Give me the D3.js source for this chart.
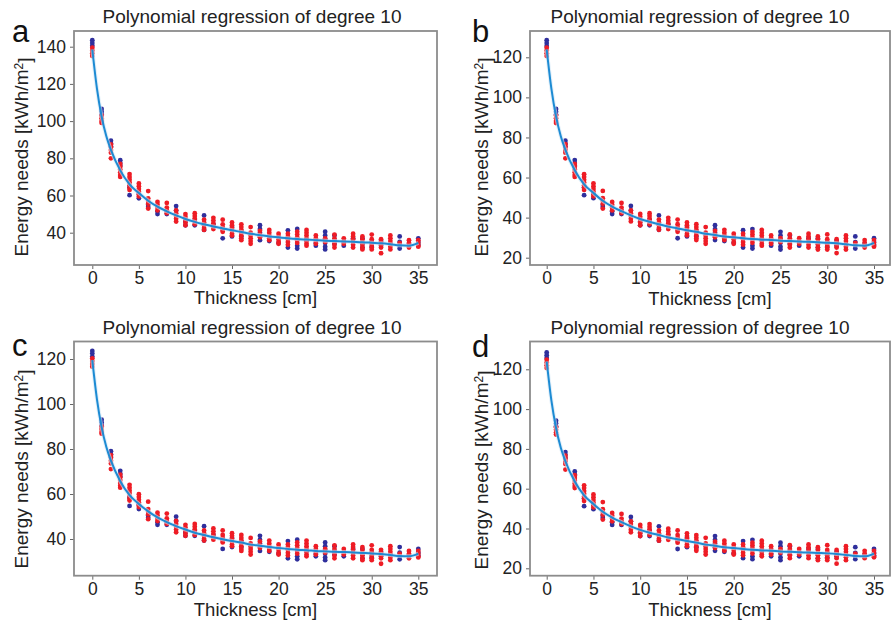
<!DOCTYPE html>
<html><head><meta charset="utf-8">
<script src="https://cdn.jsdelivr.net/npm/d3@7"></script>
<style>
html,body{margin:0;padding:0;background:#fff;}
svg{display:block;font-family:"Liberation Sans",Arial,Helvetica,sans-serif;}
</style></head>
<body>
<svg id="chart" width="891" height="620"></svg>
<script>
// ---------------- DATA ----------------
const thickness = [0,1,2,3,4,5,6,7,8,9,10,11,12,13,14,15,16,17,18,19,20,21,22,23,24,25,26,27,28,29,30,31,32,33,34,35];
const xTicks = [0,5,10,15,20,25,30,35];
const yTicksA = [40,60,80,100,120,140];
const yTicksB = [20,40,60,80,100,120];
const yTicksC = [40,60,80,100,120];
const yTicksD = [20,40,60,80,100,120];
const panelLetters = ["a","b","c","d"];
const titleText = "Polynomial regression of degree 10";
const xLabelText = "Thickness [cm]";

// Panel a (red / blue observations per thickness)
const redA = [[139.5,138,136.5,135],[103,101.5,100,99],[87.5,86,84.5,83,80],[77,75.5,74,72.5,71,70],[71.5,70,68.5,67,65.5,64,63],[66.5,65,63.5,62,60.5,59.5],[62.4,58.5,57,55.5,53],[56.5,55,53.5,52],[56,53.5,52,50.5],[52,50.5,49,47.5,46],[50,48.5,47,45.5,44],[50.5,49,47.5,46,44.5],[47,45.5,44,42.5,41.5],[48,46.5,45,43.5,42],[47,44.5,43,41.5,40.5],[45.5,44,42.5,41,39.5,38.5],[44.5,43,41.5,40,38.5,37,36],[43,40,38.5,37,35.5,34],[41,39,37.5],[41.5,40,38.5,37,36],[39.5,38,36.5,35,34],[39.5,38,36.5,35,33.5],[40.5,39,37.5,36,34.5],[41.5,40,38.5,37,35.5,34,33],[38.5,37,35.5,34],[37,35],[39,37,35,33.5,32],[37,35.5,34],[39.5,38,36.5,35,33.5,32],[38,36.5,35,33.5,32,31],[39,36.5,35,33.5,32,31],[36.5,35,33.5,32,29],[38.5,37,35.5,34,32.5,31],[34.5],[36,34.5,33,32],[36,34.5,33,32.5]];
const blueA = [[143.5,142,140.5],[106.5,105,103.5],[89.5,88,86.5],[79,77.5,76],[64.5,60.2],[61,58.5],[55,53.8],[51.5,50],[51.5,50],[54.3,52],[46,44],[47,44],[49.3,41.5],[44.5],[42,37],[43,38],[41,38],[],[44,42,40,38,36],[35.5],[34.5],[41.3,37,32],[42,33,31.5],[36],[34.5,33],[40.5,38.5,36.5,34.5,32.5,31],[38.5,36,34],[35,33],[37],[37,34,32],[35,32.5],[35.5,33],[34],[38,35,33,31.5],[34],[37,35,33.5]];

// Panel b
const redB = [[124.8,123.4,122.0,120.6],[90.9,89.6,88.2,87.2],[76.6,75.2,73.8,72.4,69.6],[66.8,65.4,64.0,62.6,61.3,60.3],[61.7,60.3,58.9,57.5,56.1,54.8,53.8],[57.1,55.7,54.3,52.9,51.5,50.6],[53.3,49.7,48.3,46.9,44.5],[47.8,46.4,45.0,43.6],[47.3,45.0,43.6,42.2],[43.6,42.2,40.8,39.4,38.1],[41.8,40.4,39.0,37.6,36.2],[42.2,40.8,39.4,38.1,36.7],[39.0,37.6,36.2,34.8,33.9],[39.9,38.5,37.1,35.7,34.3],[39.0,36.7,35.3,33.9,32.9],[37.6,36.2,34.8,33.4,32.0,31.1],[36.7,35.3,33.9,32.5,31.1,29.7,28.8],[35.3,32.5,31.1,29.7,28.3,26.9],[33.4,31.6,30.2],[33.9,32.5,31.1,29.7,28.8],[32.0,30.6,29.2,27.8,26.9],[32.0,30.6,29.2,27.8,26.5],[32.9,31.6,30.2,28.8,27.4],[33.9,32.5,31.1,29.7,28.3,26.9,26.0],[31.1,29.7,28.3,26.9],[29.7,27.8],[31.6,29.7,27.8,26.5,25.1],[29.7,28.3,26.9],[32.0,30.6,29.2,27.8,26.5,25.1],[30.6,29.2,27.8,26.5,25.1,24.1],[31.6,29.2,27.8,26.5,25.1,24.1],[29.2,27.8,26.5,25.1,22.3],[31.1,29.7,28.3,26.9,25.5,24.1],[27.4],[28.8,27.4,26.0,25.1],[28.8,27.4,26.0,25.5]];
const blueB = [[128.5,127.1,125.7],[94.2,92.8,91.4],[78.4,77.0,75.6],[68.7,67.3,65.9],[55.2,51.2],[52.0,49.7],[46.4,45.3],[43.2,41.8],[43.2,41.8],[45.8,43.6],[38.1,36.2],[39.0,36.2],[41.1,33.9],[36.7],[34.3,29.7],[35.3,30.6],[33.4,30.6],[],[36.2,34.3,32.5,30.6,28.8],[28.3],[27.4],[33.7,29.7,25.1],[34.3,26.0,24.6],[28.8],[27.4,26.0],[32.9,31.1,29.2,27.4,25.5,24.1],[31.1,28.8,26.9],[27.8,26.0],[29.7],[29.7,26.9,25.1],[27.8,25.5],[28.3,26.0],[26.9],[30.6,27.8,26.0,24.6],[26.9],[29.7,27.8,26.5]];

// Panel c
const redC = [[120.3,119.1,117.8,116.6],[90.1,88.9,87.6,86.8],[77.3,76.1,74.8,73.6,71.1],[68.6,67.4,66.2,64.9,63.7,62.8],[64.1,62.8,61.6,60.4,59.1,57.9,57.1],[59.9,58.7,57.5,56.2,55.0,54.2],[56.6,53.3,52.1,50.9,48.8],[51.7,50.4,49.2,48.0],[51.3,49.2,48.0,46.7],[48.0,46.7,45.5,44.2,43.0],[46.3,45.1,43.8,42.6,41.4],[46.7,45.5,44.2,43.0,41.8],[43.8,42.6,41.4,40.1,39.3],[44.7,43.4,42.2,40.9,39.7],[43.8,41.8,40.5,39.3,38.5],[42.6,41.4,40.1,38.9,37.6,36.8],[41.8,40.5,39.3,38.0,36.8,35.6,34.7],[40.5,38.0,36.8,35.6,34.3,33.1],[38.9,37.2,36.0],[39.3,38.0,36.8,35.6,34.7],[37.6,36.4,35.2,33.9,33.1],[37.6,36.4,35.2,33.9,32.7],[38.5,37.2,36.0,34.7,33.5],[39.3,38.0,36.8,35.6,34.3,33.1,32.3],[36.8,35.6,34.3,33.1],[35.6,33.9],[37.2,35.6,33.9,32.7,31.4],[35.6,34.3,33.1],[37.6,36.4,35.2,33.9,32.7,31.4],[36.4,35.2,33.9,32.7,31.4,30.6],[37.2,35.2,33.9,32.7,31.4,30.6],[35.2,33.9,32.7,31.4,29.0],[36.8,35.6,34.3,33.1,31.8,30.6],[33.5],[34.7,33.5,32.3,31.4],[34.7,33.5,32.3,31.8]];
const blueC = [[123.6,122.4,121.1],[93.0,91.8,90.5],[79.0,77.7,76.5],[70.3,69.0,67.8],[58.3,54.7],[55.4,53.3],[50.4,49.4],[47.5,46.3],[47.5,46.3],[49.9,48.0],[43.0,41.4],[43.8,41.4],[45.7,39.3],[41.8],[39.7,35.6],[40.5,36.4],[38.9,36.4],[],[41.4,39.7,38.0,36.4,34.7],[34.3],[33.5],[39.1,35.6,31.4],[39.7,32.3,31.0],[34.7],[33.5,32.3],[38.5,36.8,35.2,33.5,31.8,30.6],[36.8,34.7,33.1],[33.9,32.3],[35.6],[35.6,33.1,31.4],[33.9,31.8],[34.3,32.3],[33.1],[36.4,33.9,32.3,31.0],[33.1],[35.6,33.9,32.7]];

// Panel d (reads the same as panel b in the picture)
const redD = redB;
const blueD = blueB;

// Fitted polynomial curves (degree 10), sampled at fitX
const fitX = [0,0.5,1,1.5,2,3,4,5,6,7,8,9,10,11,12,13,14,15,16,17,18,19,20,21,22,23,24,25,26,27,28,29,30,31,32,33,34,35];
const fitA = [138.5,117.5,102.5,92,84.5,73.5,66,61.3,57.2,54,51.5,49.3,47.4,45.8,44.5,43.3,42.3,41.3,40.4,39.4,38.7,38.0,37.5,37.0,36.6,36.3,36.0,35.7,35.5,35.3,35.1,34.9,34.6,34.3,33.8,33.2,33.0,34.5];
const fitB = [123.9,104.4,90.5,80.7,73.8,63.6,56.6,52.3,48.4,45.5,43.2,41.1,39.3,37.9,36.7,35.5,34.6,33.7,32.9,31.9,31.3,30.6,30.2,29.7,29.3,29.0,28.8,28.5,28.3,28.1,27.9,27.7,27.5,27.2,26.7,26.2,26.0,27.4];
const fitC = [119.5,102.1,89.7,81.0,74.8,65.7,59.5,55.6,52.3,49.6,47.5,45.7,44.2,42.8,41.8,40.8,39.9,39.1,38.4,37.5,37.0,36.4,36.0,35.6,35.2,35.0,34.7,34.5,34.3,34.2,34.0,33.8,33.6,33.3,32.9,32.4,32.3,33.5];
const fitD = fitB;

// ---------------- LAYOUT ----------------
const layout = [
  {red:redA, blue:blueA, fit:fitA, yTicks:yTicksA, frame:[74,437,31,265], xpx:[92.3,418.3], yv:[140,40], ypx:[46.7,232.7], letter:[12,42], title:[252,23], ylab:[28,157], xlab:304},
  {red:redB, blue:blueB, fit:fitB, yTicks:yTicksB, frame:[530,890,31,265], xpx:[546.7,874], yv:[120,20], ypx:[57.3,257.7], letter:[472,42], title:[700,23], ylab:[488,157], xlab:304.5},
  {red:redC, blue:blueC, fit:fitC, yTicks:yTicksC, frame:[74,437,341.5,575.7], xpx:[92.3,418.3], yv:[120,40], ypx:[359,539], letter:[12,356], title:[252,334], ylab:[28,469], xlab:615.5},
  {red:redD, blue:blueD, fit:fitD, yTicks:yTicksD, frame:[530,890,341.5,575.7], xpx:[546.7,874], yv:[120,20], ypx:[369.3,568.3], letter:[472,357], title:[700,334], ylab:[488,470], xlab:615.5}
];

const COLORS = {red:"#ee1c25", blue:"#2f2f9c", line:"#1d8bd3", frame:"#8c8c8c", text:"#222"};
const svg = d3.select("#chart");

layout.forEach((p, i) => {
  const [fl, fr, ft, fb] = p.frame;
  const x = d3.scaleLinear().domain([0,35]).range(p.xpx);
  const y = d3.scaleLinear().domain(p.yv).range(p.ypx);
  const g = svg.append("g");

  // axes
  const ya = g.append("g").attr("transform",`translate(${fl},0)`)
    .call(d3.axisLeft(y).tickValues(p.yTicks).tickSize(4).tickPadding(4).tickFormat(d3.format("d")));
  const xa = g.append("g").attr("transform",`translate(0,${fb})`)
    .call(d3.axisBottom(x).tickValues(xTicks).tickSize(4).tickPadding(3).tickFormat(d3.format("d")));
  [ya, xa].forEach(a => {
    a.select(".domain").remove();
    a.selectAll("line").attr("stroke","#666").attr("stroke-width",1);
    a.selectAll("text").attr("fill",COLORS.text).style("font-size","17.5px")
      .style("font-family",'"Liberation Sans",Arial,sans-serif');
  });

  // points
  const pts = (arr) => arr.flatMap((vals, k) => vals.map(v => ({x:thickness[k], v})));
  g.append("g").selectAll("circle").data(pts(p.blue)).join("circle")
    .attr("cx", d => x(d.x)).attr("cy", d => y(d.v)).attr("r", 2.4)
    .attr("fill", COLORS.blue);
  g.append("g").selectAll("circle").data(pts(p.red)).join("circle")
    .attr("cx", d => x(d.x)).attr("cy", d => y(d.v)).attr("r", 2.4)
    .attr("fill", COLORS.red);

  // fitted line
  const line = d3.line().x((d,k) => x(fitX[k])).y(d => y(d)).curve(d3.curveMonotoneX);
  g.append("path").datum(p.fit).attr("d", line)
    .attr("fill","none").attr("stroke","#cfe6f6").attr("stroke-width",4).attr("stroke-opacity",0.6);
  g.append("path").datum(p.fit).attr("d", line)
    .attr("fill","none").attr("stroke",COLORS.line).attr("stroke-width",2);

  // frame
  g.append("rect").attr("x",fl).attr("y",ft).attr("width",fr-fl).attr("height",fb-ft)
    .attr("fill","none").attr("stroke",COLORS.frame).attr("stroke-width",1.8);

  // texts
  g.append("text").attr("x",p.title[0]).attr("y",p.title[1]).attr("text-anchor","middle")
    .attr("fill",COLORS.text).style("font-size","19px").text(titleText);
  g.append("text").attr("x",(fl+fr)/2).attr("y",p.xlab).attr("text-anchor","middle")
    .attr("fill",COLORS.text).style("font-size","18.5px").text(xLabelText);
  const yl = g.append("text").attr("transform",`translate(${p.ylab[0]},${p.ylab[1]}) rotate(-90)`)
    .attr("text-anchor","middle").attr("fill",COLORS.text).style("font-size","19px");
  yl.append("tspan").text("Energy needs [kWh/m");
  yl.append("tspan").attr("dy","-0.45em").style("font-size","12px").text("2");
  yl.append("tspan").attr("dy","0.45em").text("]");
  g.append("text").attr("x",p.letter[0]).attr("y",p.letter[1])
    .attr("fill","#111").style("font-size","31px").text(panelLetters[i]);
});
</script>
</body></html>
